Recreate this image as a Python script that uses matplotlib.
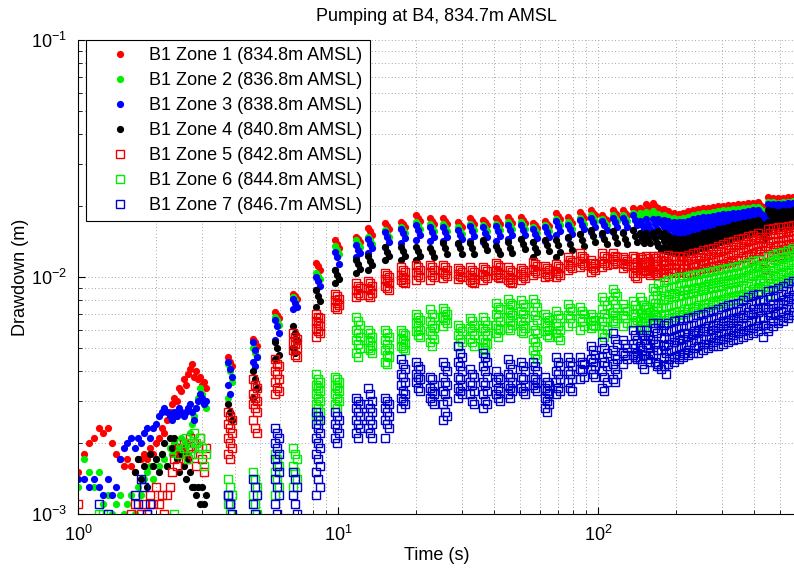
import numpy as np
import matplotlib
matplotlib.use('Agg')
import matplotlib.pyplot as plt
from matplotlib.ticker import NullFormatter, LogLocator

plt.rcParams['font.family'] = ['Liberation Sans', 'DejaVu Sans']
plt.rcParams['mathtext.default'] = 'regular'
plt.rcParams['axes.unicode_minus'] = False

# ---------------- data (drawdown in mm) ----------------
labels = ['B1 Zone 1 (834.8m AMSL)', 'B1 Zone 2 (836.8m AMSL)', 'B1 Zone 3 (838.8m AMSL)',
          'B1 Zone 4 (840.8m AMSL)', 'B1 Zone 5 (842.8m AMSL)', 'B1 Zone 6 (844.8m AMSL)',
          'B1 Zone 7 (846.7m AMSL)']

# first 3 s, logged continuously every 0.05 s
t_early = np.round(np.arange(1.0, 3.101, 0.05), 2)
z1_early = [1.5, 1.8, 2.0, 2.1, 2.3, 2.2, 2.3, 2.0, 1.8, 1.7, 1.6, 1.7, 1.6, 1.5, 1.7, 1.7, 1.8, 1.7, 1.9, 1.8,
            2.0, 2.1, 2.3, 2.2, 2.5, 2.7, 2.9, 3.1, 3.0, 3.4, 3.3, 3.7, 3.5, 3.9, 4.1, 4.3, 3.8, 4.0, 3.7, 3.8,
            3.5, 3.6, 3.4]
z2_early = [1.3, 1.7, 1.5, 1.3, 1.5, 1.1, 1.2, 1.0, 1.1, 1.2, 1.0, 1.1, 1.2, 1.0, 1.3, 1.2, 1.4, 1.5, 1.6, 1.4,
            1.7, 1.6, 1.8, 1.7, 1.6, 1.9, 1.8, 2.0, 1.8, 1.9, 2.1, 1.9, 2.0, 1.8, 2.2, 2.4, 2.6, 2.8, 3.1, 3.4,
            3.2, 3.0, 2.8]
z3_early = [1.4, 1.4, 1.3, 1.4, 1.3, 1.2, 1.4, 1.2, 1.3, 1.7, 1.9, 2.0, 2.1, 1.9, 2.1, 2.0, 2.2, 2.3, 2.1, 2.3,
            2.4, 2.6, 2.7, 2.8, 2.7, 2.6, 2.5, 2.7, 2.6, 2.8, 2.7, 2.6, 2.7, 2.8, 2.9, 2.7, 2.5, 2.8, 3.0, 3.2,
            3.1, 2.9, 3.0]
z4_early = [0.9] * 13 + [1.5, 1.7, 1.4, 1.6, 1.3, 1.8, 1.6, 1.7, 1.5, 1.8, 2.0, 1.6, 2.1, 1.9, 2.1, 1.7, 1.5,
                         1.8, 1.6, 1.4, 1.7, 1.5, 1.3, 1.3, 1.2, 1.3, 1.1, 1.3, 1.1, 1.2]
z5_early = [1.1] + [0.9] * 11 + [1.0, 1.1, 0.9, 1.0, 1.1, 1.0, 1.2, 1.1, 1.3, 1.1, 1.2, 1.0, 1.2, 1.3, 1.5,
                                 1.7, 1.6, 1.9, 1.8, 2.0, 1.7, 1.9, 2.1, 1.8, 2.0, 1.6, 1.9, 2.1, 1.7, 1.5, 1.9]
z6_early = [0.9] * 4 + [1.0, 1.0] + [0.9] * 21 + [1.0, 0.9, 1.8, 2.0, 1.9, 2.1, 1.7, 2.0, 1.9, 2.2, 2.0, 1.8,
                                                  2.1, 1.9, 1.6, 1.8]
z7_early = [0.9] * 4 + [1.1, 0.9, 1.0] + [0.9] * 6 + [1.2, 1.1, 1.4, 1.3, 1.0, 1.1] + [0.9] * 24

# later the logger records short bursts; one string of readings per burst
t_burst = [3.84, 4.8, 5.83, 6.83, 8.38, 9.91, 11.9, 13.3, 15.4, 17.8, 20.3, 23.0, 25.8, 29.5, 32.8, 36.8,
           41.2, 45.9, 51.5, 57.2, 63.7, 70.2, 78.0, 86.8, 95.7, 106, 116, 127, 139, 148, 156, 166,
           175, 183, 191, 200, 209, 218, 228, 238, 249, 260, 272, 284, 297, 310, 324, 339, 354, 370,
           387, 404, 422, 441, 461, 482, 504, 527, 551, 576, 602]

z1_burst = ["4.6 4.4 4.2", "5.5 5.3 5.1", "7.1 6.9 6.7", "8.5 8.3 8.1", "11.5 11.1 10.7", "14.3 13.8 13.3",
            "14.8 14.5 14.1", "16.1 15.6 15.1", "16.9 16.4 15.9", "17.1 16.7 16.3", "18.3 17.8 17.2",
            "17.7 17.2 16.7", "17.7 17.2 16.7", "17.0 16.6 16.2", "17.7 17.2 16.7", "17.4 17.0 16.5",
            "17.7 17.2 16.7", "17.9 17.4 16.9", "17.9 17.4 16.9", "16.9 16.5 16.1", "17.2 16.8 16.4",
            "18.6 18.1 17.6", "17.9 17.4 16.9", "18.8 18.3 17.8", "19.2 18.7 18.2", "18.2 17.8 17.4",
            "19.2 18.7 18.2", "19.2 18.7 18.2", "19.6 19.1 18.6", "19.6 19.1 18.6", "20.3 19.8 19.2 18.6",
            "20.6 20.0 19.4 18.8",
            "19.6 19.0 18.4", "19.4 18.8 18.3", "19.0 18.5 18.0", "18.6 18.1 17.6", "18.5 18.0 17.5",
            "18.7 18.2 17.7", "18.9 18.4 17.9", "19.2 18.7 18.2", "19.4 18.9 18.4", "19.5 19.0 18.5",
            "19.6 19.1 18.6", "19.7 19.2 18.7", "19.9 19.4 18.9", "20.0 19.5 19.0", "20.1 19.6 19.1",
            "20.2 19.7 19.2", "20.3 19.8 19.3", "20.4 19.9 19.4", "20.5 20.0 19.5", "20.6 20.1 19.6",
            "20.7 20.2 19.7", "19.8 19.3 18.8", "21.7 21.2 20.7", "21.6 21.1 20.6", "21.5 21.0 20.5",
            "21.6 21.1 20.6", "21.7 21.2 20.7", "21.8 21.3 20.8", "21.9 21.4 20.9"]
z2_burst = ["4.3 4.0 3.6 3.1", "5.0 4.8 4.6", "6.8 6.6 6.3", "8.2 8.0", "10.4 10.1 9.8", "13.5 13.0 12.5",
            "14.3 13.8 13.4", "14.8 14.3 13.8", "15.8 15.2 14.7", "16.3 15.8 15.3", "17.0 16.5 16.0",
            "16.7 16.2 15.7", "16.7 16.2 15.7", "16.2 15.7 15.2", "16.8 16.3 15.8", "16.6 16.1 15.6",
            "16.8 16.3 15.8", "17.0 16.5 16.0", "17.0 16.5 16.0", "16.2 15.8 15.4", "16.5 16.1 15.7",
            "17.6 17.1 16.6", "17.0 16.5 16.0", "17.8 17.3 16.8", "18.2 17.7 17.2", "17.6 17.1 16.6",
            "18.2 17.7 17.2", "18.2 17.7 17.2", "18.6 18.1 17.6", "18.6 18.1 17.6", "18.8 18.3", "18.9 18.4",
            "18.5 18.0", "18.3 17.8", "18.0 17.5", "17.7 17.2", "17.6 17.1", "17.8 17.3", "18.0 17.5",
            "18.2 17.7", "18.4 17.9", "18.6 18.1", "18.7 18.2", "18.8 18.3", "19.0 18.5", "19.1 18.6",
            "19.2 18.7", "19.3 18.8", "19.4 18.9", "19.5 19.0", "19.6 19.1", "19.7 19.2", "19.8 19.3",
            "18.9 18.4", "20.8 20.3", "20.7 20.2", "20.6 20.1", "20.7 20.2", "20.8 20.3", "20.9 20.4",
            "21.0 20.5"]
z3_burst = ["4.4 4.1 3.8 3.5 3.2", "5.3 4.9 4.6 4.4 4.2", "6.6 6.2 5.8 5.4", "8.1 7.8 7.5 7.3",
            "10.0 9.6 9.2 8.8", "12.8 12.1 11.4 10.7", "13.6 13.0 12.6 12.2", "14.5 13.8 13.2 12.6",
            "15.5 14.8 14.1 13.4", "16.0 15.3 14.6 13.9", "16.6 15.8 15.0 14.3", "16.3 15.5 14.8 14.2",
            "16.3 15.5 14.8 14.2", "15.8 15.1 14.4 13.8", "16.4 15.6 14.9 14.2", "16.2 15.4 14.7 14.0",
            "16.4 15.6 14.9 14.2", "16.6 15.8 15.1 14.4", "16.6 15.8 15.1 14.4", "15.9 15.2 14.6 14.0",
            "16.2 15.5 14.8 14.2", "17.2 16.4 15.7 15.0", "16.6 15.9 15.2 14.6", "17.4 16.6 15.9 15.2",
            "17.8 17.0 16.2 15.5", "17.2 16.5 15.8 15.1", "17.8 17.0 16.2 15.5", "17.8 17.0 16.2 15.5",
            "18.2 17.4 16.6 15.8", "17.3 16.6 15.9 15.2", "17.5 16.7 15.9 15.2", "17.5 16.7 15.9 15.2",
            "17.6 16.9 16.2 15.5 14.9", "17.4 16.7 16.0 15.3 14.8", "17.2 16.5 15.8 15.2 14.7",
            "17.0 16.3 15.7 15.1 14.6", "17.0 16.3 15.7 15.1 14.6", "17.1 16.4 15.8 15.2 14.7",
            "17.3 16.6 16.0 15.4 14.9", "17.5 16.8 16.2 15.6 15.1", "17.7 17.0 16.4 15.8 15.3",
            "17.9 17.2 16.6 16.0 15.4", "18.0 17.3 16.7 16.1 15.5", "18.1 17.4 16.8 16.2 15.6",
            "18.3 17.6 17.0 16.4 15.8", "18.4 17.8 17.2 16.6 16.0", "18.5 17.9 17.3 16.7 16.1",
            "18.6 18.0 17.4 16.8 16.2", "18.7 18.1 17.5 16.9 16.3", "18.8 18.2 17.6 17.0 16.4",
            "19.0 18.4 17.8 17.2 16.6", "19.1 18.5 17.9 17.3 16.7", "19.2 18.6 18.0 17.4 16.8",
            "18.3 17.6 17.0 16.4 15.9", "20.4 19.7 19.0 18.3 17.6", "20.4 19.7 19.0 18.3 17.6",
            "20.3 19.6 18.9 18.2 17.5", "20.4 19.7 19.0 18.3 17.6", "20.5 19.8 19.1 18.4 17.7",
            "20.6 19.9 19.2 18.5 17.8", "20.7 20.0 19.3 18.6 17.9"]
z4_burst = ["2.9 2.7 2.5", "4.0 3.7 3.4 3.1", "5.3 5.0 4.7 4.5", "6.2 5.8 5.4 5.0 4.8", "8.8 8.3 7.9 7.5",
            "10.7 10.2 9.8 9.4", "11.8 11.3 10.8 10.4", "12.3 11.7 11.2 10.7", "13.4 12.8 12.3 11.8",
            "13.4 12.9 12.3 11.8", "13.4 12.9 12.3 11.8", "13.3 12.8 12.2", "13.9 13.2 12.5",
            "13.9 13.2 12.5", "13.9 13.2 12.5", "14.3 13.6 13.0", "13.5 13.0 12.5", "14.0 13.3 12.6",
            "14.5 13.8 13.1", "14.0 13.3 12.7 12.2", "14.3 13.6 12.9", "14.3 13.6 12.8 12.2",
            "14.7 13.8 13.0", "15.2 14.3 13.5", "15.8 14.9 14.0", "15.3 14.5 13.8", "15.6 14.7 13.9",
            "15.3 14.5 13.8", "15.8 14.9 14.0", "15.3 14.6 13.9", "15.3 14.6 13.9", "15.3 14.6 13.9",
            "15.6 14.9 14.2 13.5 13.0", "15.4 14.7 14.0 13.4 12.9", "14.9 14.3 13.7 13.2 12.8",
            "14.6 14.0 13.5 13.0 12.7", "14.4 13.9 13.4 12.9 12.6", "14.4 13.9 13.4 12.9 12.6",
            "14.6 14.1 13.6 13.1 12.8", "14.9 14.4 13.9 13.4 13.0", "15.1 14.6 14.1 13.6 13.2",
            "15.3 14.8 14.3 13.8 13.4", "15.5 15.0 14.5 14.0 13.6", "15.7 15.2 14.7 14.2 13.8",
            "15.9 15.4 14.9 14.4 14.0", "16.1 15.6 15.1 14.6 14.2", "16.3 15.8 15.3 14.8 14.4",
            "16.5 16.0 15.5 15.0 14.6", "16.7 16.2 15.7 15.2 14.8", "16.9 16.4 15.9 15.4 15.0",
            "17.1 16.6 16.1 15.6 15.2", "17.3 16.8 16.3 15.8 15.4", "17.4 16.9 16.4 15.9 15.5",
            "16.5 16.0 15.5 15.0 14.6", "19.2 18.5 17.8 17.1 16.4", "19.0 18.3 17.6 16.9 16.3",
            "18.8 18.1 17.4 16.8 16.2", "18.9 18.2 17.5 16.9 16.3", "19.0 18.3 17.6 17.0 16.4",
            "19.1 18.4 17.7 17.1 16.5", "19.2 18.5 17.8 17.2 16.6"]
z5_burst = ["2.7 2.6 2.5 2.4 2.3 2.2 2.1 2.0 1.9 1.8 1.7", "3.7 3.5 3.4 3.2 3.1 3.0 2.9 2.8 2.7 2.5 2.3 2.2",
            "4.5 4.3 4.2 4.0 3.9 3.7 3.6 3.4 3.3 3.2", "5.8 5.6 5.5 5.3 5.2 5.0 4.9 4.7 4.6",
            "7.0 6.8 6.7 6.5 6.4 6.2 6.1 5.9 5.8 5.6", "8.5 8.3 8.1 8.0 7.8 7.6 7.5 7.3",
            "9.4 9.2 9.0 8.8 8.6 8.4 8.2", "9.6 9.4 9.2 9.0 8.8 8.6 8.4 8.2",
            "10.4 10.2 10.0 9.8 9.6 9.4 9.2 9.0 8.8", "11.0 10.7 10.5 10.2 10.0 9.8 9.7 9.5 9.4",
            "11.2 11.0 10.7 10.5 10.2 10.0 9.7", "11.2 11.0 10.7 10.5 10.2 10.0 9.7",
            "11.2 11.0 10.7 10.5 10.3 10.1 9.9", "10.9 10.7 10.5 10.3 10.1 10.0 9.8",
            "11.0 10.7 10.5 10.2 10.0 9.8 9.7 9.5 9.4", "11.0 10.8 10.6 10.3 10.1 9.9 9.7",
            "11.5 11.2 11.0 10.7 10.5 10.3 10.2 10.0 9.9", "11.0 10.7 10.5 10.2 10.0 9.8 9.7 9.5 9.4",
            "10.9 10.7 10.5 10.3 10.1 9.9 9.7", "11.6 11.3 11.1 10.8 10.6 10.4 10.2",
            "11.1 10.9 10.7 10.5 10.3 10.1 10.0", "11.4 11.1 10.9 10.6 10.4 10.2 10.0",
            "12.1 11.8 11.6 11.3 11.1 10.9 10.7", "12.6 12.3 12.0 11.7 11.5 11.2 11.0",
            "11.8 11.5 11.3 11.1 10.9 10.7 10.5", "12.6 12.3 12.0 11.7 11.5 11.2 11.0",
            "12.6 12.3 12.1 11.9 11.7 11.5 11.3", "12.1 11.9 11.7 11.5 11.3 11.1 10.9",
            "12.3 12.0 11.6 11.3 11.0 10.7 10.4 10.1 9.9", "12.2 11.9 11.6 11.3 11.0 10.7 10.4",
            "12.3 12.0 11.7 11.4 11.1 10.8 10.6 10.4 10.2", "12.3 12.0 11.7 11.4 11.1 10.8 10.6 10.4 10.2",
            "12.3 11.8 11.3 10.8 10.4 10.0", "12.2 11.7 11.2 10.7 10.3", "12.4 11.9 11.4 10.9 10.5",
            "12.3 11.8 11.3 10.8 10.4", "12.3 11.8 11.3 10.9 10.5", "12.2 11.7 11.2 10.8 10.4",
            "12.4 11.9 11.4 10.9 10.5", "12.6 12.0 11.5 11.0 10.6", "12.8 12.2 11.7 11.2 10.8",
            "13.0 12.4 11.9 11.4 10.9 10.5", "13.1 12.5 12.0 11.5 11.0 10.6", "13.3 12.7 12.1 11.6 11.1 10.7",
            "13.5 12.9 12.3 11.8 11.3 10.8", "13.8 13.2 12.6 12.0 11.5 11.0", "14.0 13.4 12.8 12.2 11.6 11.1",
            "14.2 13.6 13.0 12.4 11.8 11.2", "14.4 13.8 13.2 12.6 12.0 11.4", "14.6 14.0 13.4 12.8 12.2 11.6",
            "14.9 14.3 13.7 13.1 12.5 11.9", "15.1 14.5 13.9 13.3 12.7 12.1", "15.3 14.7 14.1 13.5 12.9 12.3",
            "14.5 13.5 12.5 11.5 10.8 10.2", "16.0 15.3 14.6 13.9 13.3 12.7 12.1",
            "16.1 15.4 14.7 14.0 13.4 12.8 12.2", "16.2 15.5 14.8 14.1 13.5 12.9 12.3",
            "16.3 15.6 14.9 14.2 13.6 13.0 12.4", "16.4 15.7 15.0 14.3 13.7 13.1 12.5",
            "16.5 15.8 15.1 14.4 13.8 13.2 12.6", "16.6 15.9 15.2 14.5 13.9 13.3 12.7"]
z6_burst = ["1.4 1.3 1.2 1.1 1.0", "1.5 1.4 1.3 1.2 1.1 1.0", "1.8 1.7 1.6 1.5 1.4 1.3 1.2",
            "1.9 1.8 1.7 1.6 1.5 1.4 1.3", "3.9 3.7 3.6 3.5 3.4 3.3 3.2 3.1 3.0 2.9 2.8 2.7 2.6 2.5",
            "3.8 3.7 3.6 3.5 3.4 3.3 3.2 3.1 3.0 2.9 2.8", "6.8 6.5 6.3 6.0 5.8 5.6 5.4 5.2 5.0 4.8 4.6",
            "6.0 5.8 5.6 5.4 5.3 5.1 5.0 4.9 4.8", "6.0 5.8 5.6 5.4 5.2 5.0 4.9 4.7 4.6 4.4 4.3",
            "6.0 5.8 5.7 5.5 5.4 5.2 5.1 5.0 4.9", "7.0 6.8 6.6 6.4 6.2 6.0 5.9 5.7 5.6",
            "7.3 7.0 6.8 6.5 6.3 6.1 5.9 5.7 5.5 5.3 5.1", "7.4 7.2 7.0 6.8 6.6 6.4 6.2",
            "6.3 6.1 5.9 5.7 5.5 5.3 5.1", "6.7 6.5 6.3 6.1 5.9 5.7 5.5 5.3 5.1",
            "6.8 6.5 6.3 6.1 5.9 5.7 5.5 5.3 5.2 5.0 4.9", "7.8 7.5 7.3 7.0 6.8 6.5 6.3 6.1 6.0 5.8 5.6",
            "8.1 7.8 7.6 7.3 7.1 6.9 6.7 6.5 6.3 6.1 6.0", "8.0 7.7 7.5 7.2 7.0 6.7 6.5 6.3 6.1 5.9 5.8",
            "8.1 7.8 7.5 7.2 6.9 6.6 6.3 6.0 5.8 5.5 5.3 5.1 4.9 4.7 4.5",
            "7.0 6.8 6.6 6.4 6.2 6.0 5.9 5.7 5.6", "7.2 6.9 6.7 6.4 6.2 6.0 5.8 5.6 5.4",
            "7.7 7.4 7.2 6.9 6.7 6.4 6.2", "7.5 7.2 7.0 6.7 6.5 6.2 6.0", "7.0 6.8 6.6 6.5 6.3 6.2 6.1",
            "8.2 7.9 7.6 7.3 7.0 6.7 6.5 6.2 6.0 5.8 5.6", "8.9 8.6 8.3 8.0 7.7 7.4 7.1 6.9 6.7 6.5 6.4",
            "7.7 7.4 7.2 6.9 6.7 6.4 6.2", "7.9 7.6 7.3 7.0 6.8 6.6 6.4", "8.2 7.9 7.6 7.3 7.0 6.7 6.5 6.2 6.0",
            "7.5 7.3 7.1 6.9 6.8 6.6 6.5", "9.0 8.7 8.4 8.1 7.8 7.5 7.2 7.0 6.8 6.6 6.4",
            "9.3 8.8 8.3 7.8 7.4 7.0 6.6", "9.5 9.0 8.5 8.0 7.5 7.0 6.6", "9.7 9.1 8.6 8.1 7.6 7.1 6.7",
            "9.8 9.2 8.7 8.2 7.7 7.2 6.8", "10.0 9.4 8.8 8.3 7.8 7.3 6.9", "10.0 9.4 8.9 8.4 7.9 7.4 7.0",
            "10.1 9.5 9.0 8.5 8.0 7.5 7.1", "10.2 9.6 9.1 8.6 8.1 7.6 7.2", "10.3 9.7 9.2 8.7 8.2 7.7 7.3",
            "10.4 9.8 9.3 8.8 8.3 7.8 7.4", "10.5 9.9 9.4 8.9 8.4 7.9 7.5", "10.6 10.0 9.5 9.0 8.5 8.0 7.6",
            "10.7 10.1 9.6 9.1 8.6 8.1 7.7", "10.8 10.2 9.7 9.2 8.7 8.2 7.8", "10.9 10.3 9.8 9.3 8.8 8.3 7.9",
            "11.0 10.4 9.9 9.4 8.9 8.4 8.0", "11.1 10.5 10.0 9.5 9.0 8.5 8.1", "11.3 10.7 10.2 9.7 9.2 8.7 8.3",
            "11.5 10.9 10.4 9.9 9.4 8.9 8.5", "11.7 11.1 10.6 10.1 9.6 9.1 8.6",
            "11.8 11.2 10.7 10.2 9.7 9.2 8.7", "11.0 10.4 9.9 9.4 8.9 8.4 8.0",
            "12.2 11.6 11.0 10.4 9.9 9.4 8.9", "12.4 11.8 11.2 10.6 10.1 9.6 9.1",
            "12.6 12.0 11.4 10.8 10.3 9.8 9.3", "12.8 12.2 11.6 11.0 10.5 10.0 9.5",
            "13.0 12.4 11.8 11.2 10.7 10.2 9.7", "13.2 12.6 12.0 11.4 10.9 10.4 9.9",
            "13.4 12.8 12.2 11.6 11.1 10.6 10.1"]
z7_burst = ["1.2 1.1 1.0 1.2 1.1", "1.4 1.3 1.2 1.1 1.0", "2.3 2.2 2.1 2.0 1.9 1.8 1.7 1.6 1.5 1.4 1.3 1.2 1.1 1.0",
            "1.5 1.4 1.3 1.2 1.1 1.0", "2.7 2.6 2.5 2.4 2.3 2.2 2.1 2.0 1.9 1.8 1.7 1.6 1.5 1.4 1.3 1.2",
            "2.7 2.6 2.5 2.4 2.3 2.2 2.1 2.0", "3.1 3.0 2.9 2.8 2.7 2.6 2.5 2.4 2.3 2.2 2.1",
            "3.4 3.2 3.0 2.9 2.8 2.7 2.6 2.5 2.4 2.3 2.2 2.1", "3.1 3.0 2.9 2.8 2.7 2.6 2.5 2.4 2.3 2.1",
            "4.5 4.3 4.1 3.9 3.8 3.6 3.5 3.3 3.2 3.1 3.0 2.9 2.8", "4.4 4.2 4.1 3.9 3.8 3.7 3.6 3.4 3.3",
            "3.8 3.7 3.5 3.4 3.3 3.2 3.1 3.0 2.9", "4.4 4.2 4.0 3.8 3.6 3.5 3.3 3.2 3.0 2.9 2.7 2.6 2.5",
            "5.1 4.8 4.6 4.4 4.2 4.0 3.8 3.7 3.5 3.4 3.3 3.2 3.1", "4.1 3.9 3.8 3.6 3.5 3.3 3.2 3.0 2.9",
            "4.8 4.6 4.4 4.2 4.0 3.8 3.6 3.5 3.3 3.2 3.0 2.9 2.8", "4.0 3.8 3.7 3.6 3.4 3.3 3.2 3.1 3.0",
            "4.5 4.3 4.1 3.9 3.8 3.6 3.5 3.4 3.3 3.2 3.1", "4.4 4.2 4.0 3.8 3.7 3.5 3.4 3.3 3.2",
            "4.4 4.2 4.0 3.8 3.7 3.6 3.5 3.4 3.3", "3.8 3.6 3.5 3.4 3.3 3.2 3.1 3.0 2.9 2.8 2.7",
            "4.6 4.4 4.2 4.0 3.9 3.7 3.6 3.4 3.3 3.2", "4.6 4.4 4.2 4.0 3.9 3.7 3.6 3.4 3.3",
            "4.6 4.4 4.3 4.1 4.0 3.8 3.7", "5.1 4.9 4.7 4.5 4.4 4.2 4.1 3.9 3.8",
            "5.3 5.0 4.8 4.6 4.4 4.2 4.0 3.8 3.6 3.4 3.3", "5.8 5.5 5.2 4.9 4.7 4.5 4.3 4.1 3.9 3.7 3.6",
            "5.4 5.2 5.0 4.8 4.7 4.5 4.3", "6.0 5.7 5.4 5.2 5.0 4.8 4.7 4.6 4.5",
            "6.0 5.7 5.4 5.1 4.9 4.7 4.5 4.3 4.1", "6.0 5.7 5.4 5.2 5.0 4.8 4.7 4.5 4.4",
            "6.4 6.1 5.8 5.5 5.2 4.9 4.7 4.4 4.2",
            "6.4 6.0 5.6 5.2 4.9 4.6 4.3 4.1", "6.3 5.9 5.5 5.1 4.8 4.5 4.2 3.9", "6.4 6.0 5.6 5.2 4.9 4.6 4.3",
            "6.5 6.1 5.7 5.3 5.0 4.7 4.4", "6.6 6.2 5.8 5.4 5.1 4.8 4.5", "6.6 6.2 5.8 5.5 5.2 4.9 4.6",
            "6.7 6.3 5.9 5.6 5.3 5.0 4.7", "6.8 6.4 6.0 5.7 5.4 5.1 4.8", "6.9 6.5 6.1 5.8 5.5 5.2 4.8",
            "7.0 6.6 6.2 5.9 5.5 5.2 4.9", "7.1 6.7 6.3 5.9 5.6 5.3 5.0", "7.2 6.8 6.4 6.0 5.7 5.4 5.1",
            "7.3 6.9 6.5 6.1 5.8 5.5 5.1", "7.5 7.0 6.6 6.2 5.9 5.6 5.2", "7.6 7.1 6.7 6.3 6.0 5.7 5.3",
            "7.7 7.2 6.8 6.4 6.1 5.8 5.4", "7.8 7.3 6.9 6.5 6.2 5.9 5.5", "8.0 7.5 7.1 6.7 6.3 6.0 5.6",
            "8.2 7.7 7.3 6.9 6.5 6.1 5.7", "8.4 7.9 7.4 7.0 6.6 6.2 5.8", "8.5 8.0 7.5 7.1 6.7 6.3 5.9",
            "8.0 7.5 7.1 6.7 6.3 5.9 5.6", "8.7 8.2 7.7 7.3 6.9 6.5 6.1", "8.8 8.3 7.8 7.4 7.0 6.6 6.2",
            "9.0 8.5 8.0 7.6 7.2 6.8 6.4", "9.2 8.7 8.2 7.7 7.3 6.9 6.5", "9.4 8.9 8.4 7.9 7.5 7.1 6.7",
            "9.6 9.1 8.6 8.1 7.7 7.3 6.9", "9.8 9.3 8.8 8.3 7.9 7.5 7.1"]

early = [z1_early, z2_early, z3_early, z4_early, z5_early, z6_early, z7_early]
bursts = [z1_burst, z2_burst, z3_burst, z4_burst, z5_burst, z6_burst, z7_burst]


def series(vals_early, vals_burst):
    t = list(t_early)
    d = list(vals_early)
    for t0, s in zip(t_burst, vals_burst):
        v = [float(x) for x in s.split()]
        # readings of one burst sit a little apart in time
        w = 0.016 if t0 < 170 else 0.02
        for i, y in enumerate(v):
            t.append(t0 * 10 ** (w * ((i % 3) - 1) / 2))
            d.append(y)
    return np.array(t), np.array(d) / 1000.0


colors = ['#ff0000', '#00ee00', '#0000ff', '#000000', '#ee0000', '#00ee00', '#0000cc']
markers = ['o', 'o', 'o', 'o', 's', 's', 's']

fig = plt.figure(figsize=(7.94, 5.68), dpi=100)
ax = fig.add_axes([78 / 794, 54 / 568, 717 / 794, 474 / 568])

for k in range(7):
    t, d = series(early[k], bursts[k])
    if markers[k] == 'o':
        ax.plot(t, d, ls='none', marker='o', ms=5.2, mew=0, color=colors[k], label=labels[k])
    else:
        ax.plot(t, d, ls='none', marker='s', ms=5.6, mew=1.0, mfc='none', mec=colors[k],
                color=colors[k], label=labels[k])

ax.set_xscale('log')
ax.set_yscale('log')
ax.set_xlim(1, 573)
ax.set_ylim(1e-3, 1e-1)
ax.yaxis.set_minor_formatter(NullFormatter())
ax.xaxis.set_minor_formatter(NullFormatter())
ax.xaxis.set_minor_locator(LogLocator(base=10, subs=np.arange(2, 10)))
ax.yaxis.set_minor_locator(LogLocator(base=10, subs=np.arange(2, 10)))

for s in ['top', 'right']:
    ax.spines[s].set_visible(False)
ax.spines['left'].set_linewidth(0.8)
ax.spines['bottom'].set_linewidth(0.8)
ax.tick_params(which='both', direction='in', top=False, right=False, labelsize=13)
ax.tick_params(which='major', length=5, width=0.8)
ax.tick_params(which='minor', length=3, width=0.6)
ax.tick_params(axis='x', pad=8)
ax.tick_params(axis='y', pad=8)

ax.grid(True, which='both', linestyle=(0, (1, 3)), color='#888888', linewidth=0.6)
ax.set_axisbelow(True)

ax.set_xlabel('Time (s)', fontsize=13)
ax.set_ylabel('Drawdown (m)', fontsize=13)
ax.xaxis.set_label_coords(0.5, -0.069)
ax.yaxis.set_label_coords(-0.068, 0.5)
ax.set_title('Pumping at B4, 834.7m AMSL', fontsize=13, pad=13.5)

leg = ax.legend(loc='upper left', bbox_to_anchor=(8 / 717, 1.0), fontsize=13, frameon=True,
                fancybox=False, edgecolor='k', framealpha=1, borderaxespad=0, handlelength=3.0,
                handletextpad=0.1, borderpad=0.4, labelspacing=0.44, numpoints=1)
leg.get_frame().set_linewidth(0.8)

fig.savefig('out.png', dpi=100)
